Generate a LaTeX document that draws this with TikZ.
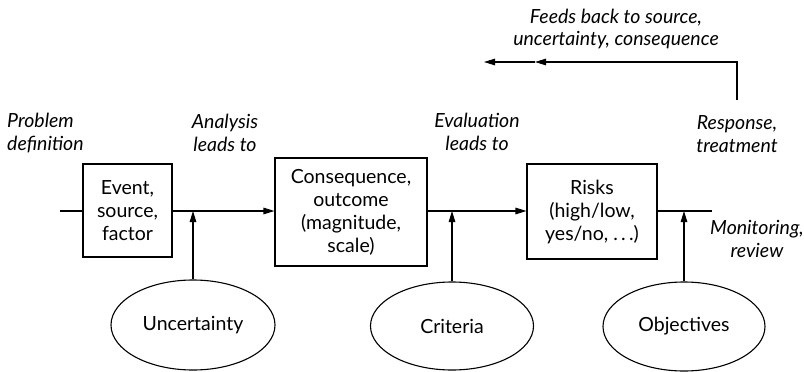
\documentclass[tikz,border=0pt]{standalone}
\usepackage{fontspec}
\setmainfont{Lato}
\usetikzlibrary{arrows.meta,shapes.geometric}

\tikzset{
  lbl/.style={font=\fontsize{19.5}{23}\selectfont, text=black, inner sep=0pt, align=center},
  note/.style={lbl, font=\fontsize{19.5}{22.5}\selectfont\itshape},
  stagebox/.style={lbl, draw, line width=1.1pt},
  factor/.style={lbl, draw, ellipse, line width=1.1pt},
  flow/.style={line width=1.1pt},
  tip/.style={-{Triangle[length=11pt,width=6.5pt]}}
}

\begin{document}
\begin{tikzpicture}[x=1pt,y=-1pt]
  \useasboundingbox (0,0) rectangle (804,372);

  % process boxes along the main line
  \node[stagebox, minimum width=89pt, minimum height=93pt] (ev) at (127.5,210.5)
    {Event,\\source,\\factor};
  \node[stagebox, minimum width=152pt, minimum height=108pt] (cons) at (351,212)
    {Consequence,\\outcome\\(magnitude,\\scale)};
  \node[stagebox, minimum width=130pt, minimum height=95pt] (risk) at (592,211.5)
    {Risks\\(high/low,\\yes/no, .\,.\,.)};

  % influencing factors
  \node[factor, minimum width=164pt, minimum height=90pt] (unc) at (193,325) {Uncertainty};
  \node[factor, minimum width=163pt, minimum height=88pt] (crit) at (452,326) {Criteria};
  \node[factor, minimum width=162pt, minimum height=89pt] (obj) at (684,326.5) {Objectives};

  % line ends
  \coordinate (start) at (60,211);
  \coordinate (stop) at (712,211);
  \coordinate (fbup) at (737,100);
  \coordinate (fbcorner) at (737,62);
  \coordinate (fbmid) at (535,62);
  \coordinate (fbend) at (484,62);

  % main flow
  \draw[flow] (start) -- (ev.west |- start);
  \draw[flow, tip] (ev.east |- start) -- (cons.west |- start);
  \draw[flow, tip] (cons.east |- start) -- (risk.west |- start);
  \draw[flow] (risk.east |- start) -- (stop);

  % factors feeding into the flow
  \draw[flow, tip] (unc.north) -- (unc.north |- start);
  \draw[flow, tip] (crit.north) -- (crit.north |- start);
  \draw[flow, tip] (obj.north) -- (obj.north |- start);

  % feedback path
  \draw[flow, tip] (fbup) -- (fbcorner) -- (fbmid);
  \draw[flow, tip] (fbmid) -- (fbend);

  % annotations
  \node[note, anchor=west, align=left] (prob) at (7,133) {Problem\\definition};
  \node[note] (ana) at (225,133) {Analysis\\leads to};
  \node[note] (eva) at (477,132) {Evaluation\\leads to};
  \node[note] (feed) at (616,29) {Feeds back to source,\\uncertainty, consequence};
  \node[note] (resp) at (737,134) {Response,\\treatment};
  \node[note] (mon) at (757,239) {Monitoring,\\review};
\end{tikzpicture}
\end{document}
